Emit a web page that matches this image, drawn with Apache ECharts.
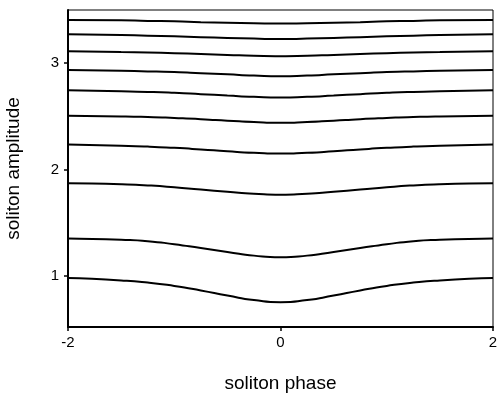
<!DOCTYPE html>
<html>
<head>
<meta charset="utf-8">
<script src="https://cdn.jsdelivr.net/npm/echarts@6/dist/echarts.min.js"></script>
<style>
  html, body { margin: 0; padding: 0; background: #fff; }
  #chart { width: 498px; height: 394px; }
</style>
</head>
<body>
<div id="chart"></div>
<script>
// soliton phase samples
const phase = [-2, -1.5, -1.25, -1, -0.75, -0.5, -0.25, 0, 0.25, 0.5, 0.75, 1, 1.25, 1.5, 2];

// amplitude curves, top to bottom
const curve1 = [3.406, 3.403, 3.397, 3.394, 3.386, 3.380, 3.375, 3.372, 3.375, 3.380, 3.386, 3.394, 3.397, 3.403, 3.406];
const curve2 = [3.272, 3.264, 3.259, 3.253, 3.245, 3.237, 3.231, 3.227, 3.231, 3.237, 3.245, 3.253, 3.259, 3.264, 3.272];
const curve3 = [3.112, 3.104, 3.100, 3.094, 3.086, 3.078, 3.070, 3.066, 3.070, 3.078, 3.086, 3.094, 3.100, 3.104, 3.112];
const curve4 = [2.936, 2.928, 2.923, 2.916, 2.906, 2.895, 2.884, 2.878, 2.884, 2.895, 2.906, 2.916, 2.923, 2.928, 2.936];
const curve5 = [2.745, 2.736, 2.730, 2.721, 2.709, 2.696, 2.684, 2.678, 2.684, 2.696, 2.709, 2.721, 2.730, 2.736, 2.745];
const curve6 = [2.507, 2.500, 2.494, 2.485, 2.474, 2.460, 2.446, 2.439, 2.446, 2.460, 2.474, 2.485, 2.494, 2.500, 2.507];
const curve7 = [2.235, 2.224, 2.216, 2.204, 2.189, 2.172, 2.158, 2.150, 2.158, 2.172, 2.189, 2.204, 2.216, 2.224, 2.235];
const curve8 = [1.871, 1.862, 1.851, 1.834, 1.812, 1.792, 1.773, 1.763, 1.773, 1.792, 1.812, 1.834, 1.851, 1.862, 1.871];
const curve9 = [1.351, 1.340, 1.327, 1.298, 1.262, 1.226, 1.191, 1.176, 1.191, 1.226, 1.262, 1.298, 1.327, 1.340, 1.351];
const curve10 = [0.980, 0.958, 0.938, 0.906, 0.864, 0.816, 0.773, 0.753, 0.773, 0.816, 0.864, 0.906, 0.938, 0.958, 0.980];

const curves = [curve1, curve2, curve3, curve4, curve5, curve6, curve7, curve8, curve9, curve10];
const yTicks = [1, 2, 3];

const chart = echarts.init(document.getElementById('chart'));

const font = 'Liberation Sans, Arial, sans-serif';

chart.setOption({
  animation: false,
  backgroundColor: '#fff',
  grid: {
    left: 68,
    right: 5,
    top: 10,
    bottom: 67,
    outerBoundsMode: 'none',
    containLabel: false,
    show: true,
    borderColor: '#000',
    borderWidth: 1
  },
  xAxis: {
    type: 'value',
    min: -2,
    max: 2,
    interval: 2,
    name: 'soliton phase',
    nameLocation: 'middle',
    nameGap: 47,
    nameTextStyle: { fontFamily: font, fontSize: 19, color: '#000' },
    axisLine: { onZero: false, lineStyle: { color: '#000', width: 2 } },
    axisTick: { length: 4, lineStyle: { color: '#000', width: 1.5 } },
    axisLabel: { margin: 8, fontFamily: font, fontSize: 15, color: '#000' },
    splitLine: { show: false }
  },
  yAxis: {
    type: 'value',
    min: 0.52,
    max: 3.5,
    name: 'soliton amplitude',
    nameLocation: 'middle',
    nameGap: 45,
    nameTextStyle: { fontFamily: font, fontSize: 19, color: '#000' },
    axisLine: { onZero: false, lineStyle: { color: '#000', width: 2 } },
    axisTick: { length: 4, customValues: yTicks, lineStyle: { color: '#000', width: 1.5 } },
    axisLabel: { margin: 9, customValues: yTicks, fontFamily: font, fontSize: 15, color: '#000' },
    splitLine: { show: false }
  },
  series: curves.map((c, i) => ({
    name: 'curve' + (i + 1),
    type: 'line',
    data: phase.map((x, j) => [x, c[j]]),
    smooth: 0.6,
    symbol: 'none',
    lineStyle: { color: '#000', width: 2 }
  }))
});
</script>
</body>
</html>
